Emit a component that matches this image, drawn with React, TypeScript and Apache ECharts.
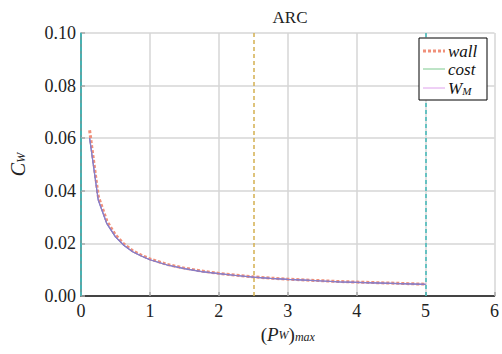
import React, { useEffect, useRef } from "react";
import * as echarts from "echarts";

const xValues = [0.125, 0.25, 0.375, 0.5, 0.625, 0.75, 0.875, 1.0, 1.25, 1.5, 1.75, 2.0, 2.25, 2.5, 2.75, 3.0, 3.25, 3.5, 3.75, 4.0, 4.25, 4.5, 4.75, 5.0];
const wallValues = [0.063, 0.038, 0.0285, 0.0232, 0.0197, 0.0172, 0.0155, 0.0141, 0.012, 0.0106, 0.0095, 0.0086, 0.0079, 0.0073, 0.0068, 0.0064, 0.0061, 0.0058, 0.0055, 0.0053, 0.0051, 0.0049, 0.0047, 0.0045];
const costValues = [0.06, 0.0365, 0.0275, 0.0225, 0.0192, 0.0168, 0.0152, 0.0138, 0.0118, 0.0104, 0.0093, 0.0085, 0.0078, 0.0072, 0.0067, 0.0063, 0.006, 0.0057, 0.0054, 0.0052, 0.005, 0.0048, 0.0046, 0.0044];
const wmValues = [0.06, 0.0365, 0.0275, 0.0225, 0.0192, 0.0168, 0.0152, 0.0138, 0.0118, 0.0104, 0.0093, 0.0085, 0.0078, 0.0072, 0.0067, 0.0063, 0.006, 0.0057, 0.0054, 0.0052, 0.005, 0.0048, 0.0046, 0.0044];
const legendLabels = ["{i|wall}", "{i|cost}", "{i|W}{s|M}"];
const goldLines = [2.5];
const tealLines = [0, 5];

const FONT = "Liberation Serif";
const WALL_COLOR = "#f0907a";
const COST_COLOR = "#7cc98e";
const WM_COLOR = "#dea0ec";

export default function App() {
  const ref = useRef<HTMLDivElement>(null);
  useEffect(() => {
    if (!ref.current) return;
    const chart = echarts.init(ref.current, null, { renderer: "svg" });
    const pair = (ys: number[]) => xValues.map((x, i) => [x, ys[i]]);
    const curveColor = "#8a7ec6";
    const legendStyles = [
      { stroke: WALL_COLOR, lineWidth: 3, lineDash: [3, 2] },
      { stroke: COST_COLOR, lineWidth: 1 },
      { stroke: WM_COLOR, lineWidth: 1 },
    ];
    const lx = 419, ly = 38, lw = 68, lh = 62;
    const rowY = [51, 69, 88];
    const legendEls: any[] = [
      { type: "rect", shape: { x: lx, y: ly, width: lw, height: lh }, style: { fill: "#fff", stroke: "#000", lineWidth: 1 }, z: 100 },
    ];
    legendLabels.forEach((lab, i) => {
      legendEls.push({
        type: "line",
        shape: { x1: lx + 4, y1: rowY[i], x2: lx + 26, y2: rowY[i] },
        style: { ...legendStyles[i], fill: null },
        z: 101,
      });
      legendEls.push({
        type: "text",
        x: lx + 29,
        y: rowY[i],
        style: {
          text: lab,
          verticalAlign: "middle",
          align: "left",
          rich: {
            i: { fontFamily: FONT, fontSize: 17, lineHeight: 16, fontStyle: "italic", fill: "#111" },
            s: { fontFamily: FONT, fontSize: 11, lineHeight: 11, fontStyle: "italic", fill: "#111", padding: [5, 0, 0, 0] },
          },
        },
        z: 101,
      });
    });
    const tickRich = { a: { fontFamily: FONT, fontSize: 18, color: "#222" } };
    chart.setOption({
      animation: false,
      backgroundColor: "#ffffff",
      textStyle: { fontFamily: FONT },
      title: {
        text: "ARC",
        left: 285,
        top: 4,
        textAlign: "center",
        textStyle: { fontFamily: FONT, fontSize: 17, fontWeight: "normal", color: "#222" },
      },
      grid: { left: 75, right: 7, top: 33, bottom: 58 },
      graphic: legendEls,
      xAxis: {
        type: "value",
        min: 0,
        max: 6,
        interval: 1,
        name: "{n|(}{i|P}{s|W}{n|)}{t|max}",
        nameLocation: "middle",
        nameGap: 24,
        nameTextStyle: {
          rich: {
            n: { fontFamily: FONT, fontSize: 19, color: "#222", padding: [0, 0, 5, 0] },
            i: { fontFamily: FONT, fontSize: 19, fontStyle: "italic", color: "#222", padding: [0, 0, 5, 0] },
            s: { fontFamily: FONT, fontSize: 12, fontStyle: "italic", color: "#222", padding: [0, 0, 3, 0] },
            t: { fontFamily: FONT, fontSize: 12, fontStyle: "italic", color: "#222" },
          },
        },
        axisLine: { show: true, onZero: false, lineStyle: { color: "#111", width: 1.5 } },
        axisTick: { show: true, inside: true, length: 4, lineStyle: { color: "#aaa", width: 1.5 } },
        axisLabel: { fontFamily: FONT, fontSize: 18, color: "#222", margin: 6, formatter: (v: number) => "{a|" + v + "}", rich: tickRich },
        splitLine: { show: true, lineStyle: { color: "#d6d6d6", width: 1.5 } },
      },
      yAxis: {
        type: "value",
        min: 0,
        max: 0.1,
        interval: 0.02,
        name: "{i|C}{s|W}",
        nameLocation: "middle",
        nameRotate: 90,
        nameGap: 48,
        nameTextStyle: {
          rich: {
            i: { fontFamily: FONT, fontSize: 20, fontStyle: "italic", color: "#222", padding: [0, 0, 5, 0] },
            s: { fontFamily: FONT, fontSize: 12, fontStyle: "italic", color: "#222" },
          },
        },
        axisLine: { show: true, lineStyle: { color: "#3a8f8f", width: 1.5 } },
        axisTick: { show: true, inside: true, length: 4, lineStyle: { color: "#aaa", width: 1.5 } },
        axisLabel: { fontFamily: FONT, fontSize: 18, color: "#222", margin: 5, formatter: (v: number) => "{a|" + v.toFixed(2) + "}", rich: tickRich },
        splitLine: { show: true, lineStyle: { color: "#d6d6d6", width: 1.5 } },
      },
      series: [
        {
          name: "wall",
          type: "line",
          data: pair(wallValues),
          symbol: "none",
          z: 3,
          lineStyle: { color: WALL_COLOR, width: 3, type: [3, 2], cap: "butt" },
          itemStyle: { color: WALL_COLOR },
          markLine: {
            silent: true,
            symbol: "none",
            label: { show: false },
            data: [
              ...goldLines.map((x) => ({ xAxis: x, lineStyle: { color: "#d4b050", type: [4, 3], width: 1.5 } })),
              ...tealLines.map((x) => ({ xAxis: x, lineStyle: { color: "#3fb8b8", type: [4, 3], width: 1.5 } })),
            ],
          },
        },
        {
          name: "cost",
          type: "line",
          data: pair(costValues),
          symbol: "none",
          z: 4,
          lineStyle: { color: curveColor, width: 1.2 },
          itemStyle: { color: COST_COLOR },
        },
        {
          name: "W_M",
          type: "line",
          data: pair(wmValues),
          symbol: "none",
          z: 5,
          lineStyle: { color: curveColor, width: 1.2 },
          itemStyle: { color: WM_COLOR },
        },
      ],
    });
    return () => chart.dispose();
  }, []);
  return <div ref={ref} style={{ width: 502, height: 354, position: "absolute", left: 0, top: 0 }} />;
}
